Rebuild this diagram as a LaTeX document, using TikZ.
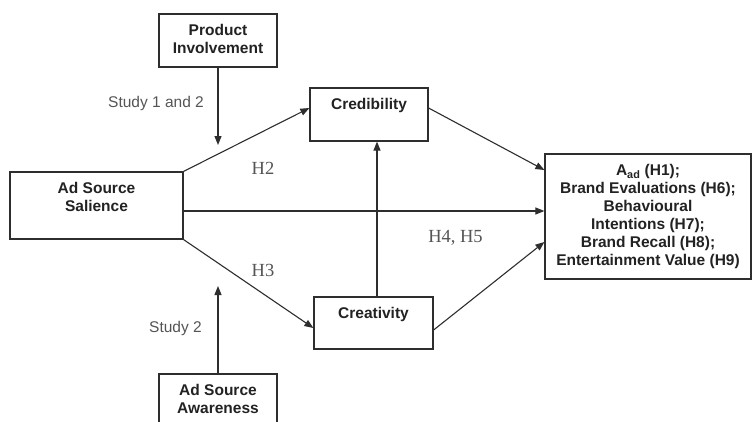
\documentclass[tikz,border=0pt]{standalone}
\usepackage{fontspec}
\setmainfont{Liberation Serif}
\setsansfont{Liberation Sans}
\usetikzlibrary{arrows.meta}
\definecolor{linegray}{HTML}{2E2E2E}
\definecolor{labelgray}{HTML}{555555}
\definecolor{boxtext}{HTML}{222222}
\tikzset{
  box/.style={draw=linegray, line width=1.2pt, inner sep=0pt, align=center,
    font=\sffamily\bfseries\fontsize{15.5}{18}\selectfont, text=boxtext},
  link/.style={draw=linegray, line width=1.1pt, -{Triangle[length=9pt,width=7pt]}},
  hyp/.style={font=\fontsize{18.5}{20}\selectfont, text=labelgray, inner sep=0pt},
  study/.style={font=\sffamily\fontsize{15.5}{18}\selectfont, text=labelgray, inner sep=0pt},
}
\begin{document}
\begin{tikzpicture}[x=1pt,y=-1pt]
\clip (0,0) rectangle (752,421);
\fill[white] (0,0) rectangle (752,421);

% boxes
\node[box, minimum width=118pt, minimum height=53pt, text depth=4pt] (inv) at (218,40.5) {Product\\Involvement};
\node[box, minimum width=118pt, minimum height=53pt, text height=11pt, text depth=21pt] (cred) at (369,114.5) {Credibility};
\node[box, minimum width=173pt, minimum height=67pt, text depth=17pt] (sal) at (96.5,205.5) {Ad Source\\Salience};
\node[box, minimum width=119pt, minimum height=52pt, text height=11pt, text depth=20pt] (crea) at (373.5,323) {Creativity};
\node[box, minimum width=206pt, minimum height=125pt] (out) at (648,216.5)
  {A\textsubscript{ad} (H1);\\Brand Evaluations (H6);\\Behavioural\\Intentions (H7);\\Brand Recall (H8);\\Entertainment Value (H9)};
\node[box, minimum width=118pt, minimum height=50pt] (aware) at (218,399) {Ad Source\\Awareness};

% free ends of the moderator arrows
\coordinate (invtip) at (218,145);
\coordinate (awaretip) at (218,286);

% connectors
\draw[link] (inv.south) -- (invtip);
\draw[link] (aware.north) -- (awaretip);
\draw[link] (sal.north east) -- ([yshift=6.5pt]cred.west);
\draw[link] (sal.south east) -- ([yshift=-5pt]crea.west);
\draw[link] ([yshift=-5.5pt]sal.east) -- ([yshift=-5.5pt]sal.east -| out.west);
\draw[link] ([xshift=3.5pt]crea.north) -- ([xshift=3.5pt]crea.north |- cred.south);
\draw[link] ([yshift=6.5pt]cred.east) -- ([yshift=46.5pt]out.west);
\draw[link] ([yshift=-7pt]crea.east) -- ([yshift=-25.5pt]out.west);

% labels
\node[study] (s12) at (156,103) {Study 1 and 2};
\node[study] (s2) at (175.5,328) {Study 2};
\node[hyp] (h2) at (263,168) {H2};
\node[hyp] (h3) at (263,270) {H3};
\node[hyp] (h45) at (455.5,238) {H4, H5};
\end{tikzpicture}
\end{document}
